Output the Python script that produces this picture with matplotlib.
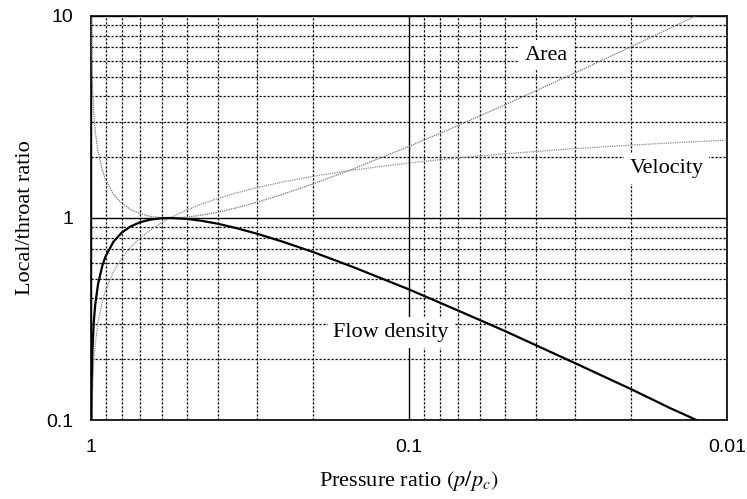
import numpy as np
import matplotlib
matplotlib.use("Agg")
import matplotlib.pyplot as plt
from matplotlib.ticker import LogLocator, FixedLocator, NullFormatter

# === 1. Values ===
pressure = [0.9995, 0.999, 0.998, 0.995, 0.99, 0.98, 0.97, 0.95, 0.92, 0.9,
            0.85, 0.8, 0.75, 0.7, 0.65, 0.6, 0.5645, 0.5, 0.45, 0.4,
            0.35, 0.3, 0.25, 0.2, 0.15, 0.1, 0.07, 0.05, 0.03, 0.02,
            0.015, 0.013, 0.01]

flow_density = [0.0487, 0.0689, 0.0974, 0.154, 0.217, 0.305, 0.371, 0.472, 0.585, 0.645,
                0.763, 0.847, 0.909, 0.953, 0.982, 0.997, 1.0, 0.990, 0.969, 0.937,
                0.892, 0.835, 0.764, 0.678, 0.572, 0.443, 0.348, 0.276, 0.191, 0.142,
                0.114, 0.103, 0.0842]

area = [20.5, 14.5, 10.27, 6.51, 4.62, 3.28, 2.70, 2.12, 1.71, 1.55,
        1.31, 1.18, 1.10, 1.05, 1.018, 1.003, 1.0, 1.010, 1.032, 1.068,
        1.121, 1.198, 1.309, 1.476, 1.748, 2.26, 2.87, 3.63, 5.23, 7.05,
        8.74, 9.73, 11.87]

velocity = [0.0303, 0.0428, 0.0606, 0.0958, 0.136, 0.192, 0.236, 0.306, 0.390, 0.438,
            0.542, 0.634, 0.718, 0.797, 0.873, 0.948, 1.0, 1.096, 1.171, 1.248,
            1.329, 1.414, 1.506, 1.609, 1.727, 1.872, 1.985, 2.079, 2.206, 2.295,
            2.353, 2.380, 2.428]

x_ticks = [1, 0.1, 0.01]
x_tick_labels = ["1", "0.1", "0.01"]
y_ticks = [0.1, 1, 10]
y_tick_labels = ["0.1", "1", "10"]

# === 2. Figure ===
plt.rcParams['font.family'] = ['Liberation Serif', 'DejaVu Serif']
plt.rcParams['mathtext.fontset'] = 'stix'

fig = plt.figure(figsize=(7.47, 4.99), dpi=100)
ax = fig.add_axes([0.1218, 0.1583, 0.8514, 0.8097])

ax.set_xscale('log')
ax.set_yscale('log')
ax.set_xlim(1, 0.01)
ax.set_ylim(0.1, 10)

# gridlines: solid at decades, dashed in between
ax.xaxis.set_major_locator(FixedLocator(x_ticks))
ax.yaxis.set_major_locator(FixedLocator(y_ticks))
ax.xaxis.set_minor_locator(LogLocator(base=10, subs=np.arange(2, 10)))
ax.yaxis.set_minor_locator(LogLocator(base=10, subs=np.arange(2, 10)))
ax.xaxis.set_minor_formatter(NullFormatter())
ax.yaxis.set_minor_formatter(NullFormatter())
ax.grid(True, which='major', color='black', linewidth=1.0, linestyle='-')
ax.grid(True, which='minor', color='black', linewidth=0.9, linestyle=(0, (1.8, 1.4)))
ax.set_axisbelow(True)

ax.plot(pressure, area, color='0.45', linewidth=0.9, linestyle=(0, (1, 0.8)), zorder=3)
ax.plot(pressure, velocity, color='0.55', linewidth=0.9, linestyle=(0, (1, 0.8)), zorder=3)
ax.plot(pressure, flow_density, color='black', linewidth=1.6, zorder=4)

box = dict(facecolor='white', edgecolor='none', pad=4)
ax.text(0.0369, 6.4, "Area", fontsize=16, ha='center', va='center', bbox=box, zorder=5)
ax.text(0.0155, 1.75, "Velocity", fontsize=16, ha='center', va='center', bbox=box, zorder=5)
ax.text(0.1138, 0.271, "Flow density", fontsize=16, ha='center', va='center', bbox=box, zorder=5)

ax.set_xticks(x_ticks)
ax.set_xticklabels(x_tick_labels, family='Liberation Sans', fontsize=14)
ax.set_yticks(y_ticks)
ax.set_yticklabels(y_tick_labels, family='Liberation Sans', fontsize=14)
ax.tick_params(which='both', length=0)
ax.tick_params(axis='x', pad=14)
ax.tick_params(axis='y', pad=13)

ax.set_xlabel(r"Pressure ratio $(p/p_c)$", fontsize=16, labelpad=9)
ax.set_ylabel("Local/throat ratio", fontsize=16, labelpad=8)

for s in ax.spines.values():
    s.set_color('black')
    s.set_linewidth(1.2)

fig.savefig("out.png", dpi=100)
